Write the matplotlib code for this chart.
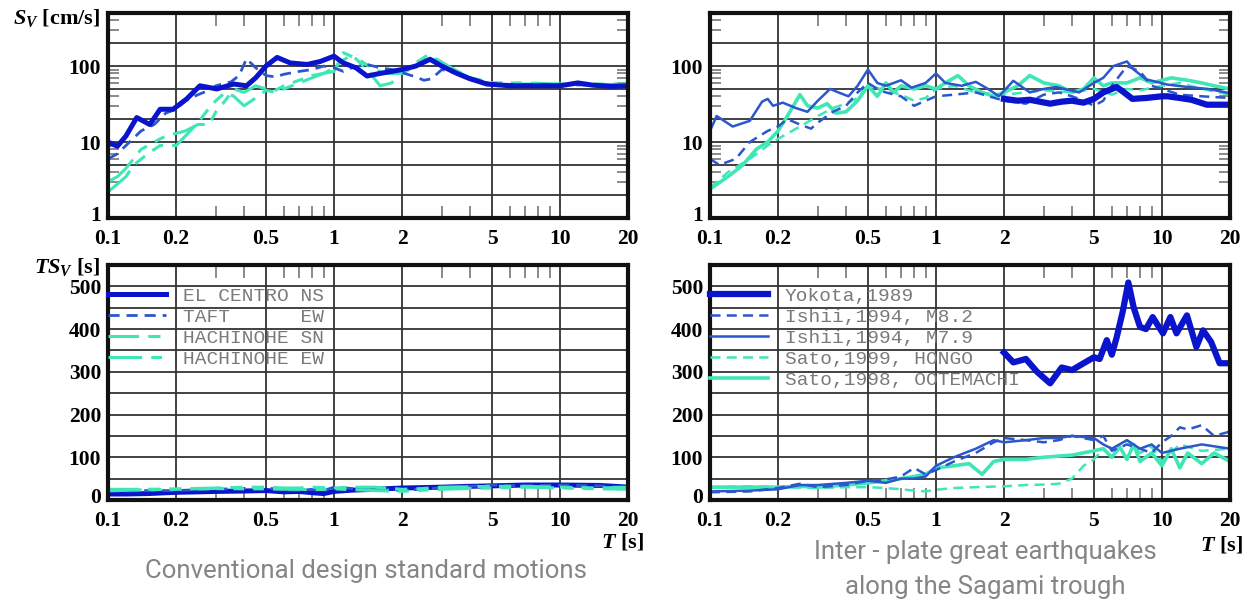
import matplotlib
matplotlib.use("Agg")
import matplotlib.pyplot as plt
import matplotlib.transforms as mtransforms
from matplotlib.ticker import FixedLocator, NullFormatter, FixedFormatter

plt.rcParams['mathtext.fontset'] = 'custom'
plt.rcParams['mathtext.it'] = 'Liberation Serif:italic:bold'
plt.rcParams['mathtext.rm'] = 'Liberation Serif:bold'
plt.rcParams['mathtext.bf'] = 'Liberation Serif:bold'

# ---------------- data: velocity response spectra Sv [cm/s] ----------------
# Conventional design standard motions
elc_T = [0.1, 0.11, 0.12, 0.134, 0.153, 0.17, 0.194, 0.223, 0.255, 0.303, 0.36, 0.41, 0.45,
         0.5, 0.56, 0.64, 0.76, 0.87, 1.0, 1.1, 1.25, 1.4, 1.6, 1.8, 2.0, 2.3, 2.66, 3.0,
         3.5, 4.0, 4.75, 6, 8, 10, 12, 14, 17, 20]
elc_sv = [10, 8.8, 12, 21, 17, 27, 27, 37, 55, 50, 58, 55, 70, 100, 130, 110, 105, 115, 135,
          110, 95, 74, 80, 85, 90, 100, 123, 100, 80, 68, 58, 55, 55, 55, 60, 56, 54, 55]

taft_T = [0.1, 0.11, 0.12, 0.14, 0.16, 0.18, 0.2, 0.22, 0.25, 0.28, 0.3, 0.35, 0.38, 0.41,
          0.45, 0.5, 0.55, 0.6, 0.7, 0.8, 0.9, 1.0, 1.1, 1.2, 1.4, 1.6, 1.8, 2.0, 2.3, 2.5,
          2.7, 3.0, 3.5, 4, 5, 7, 10, 14, 20]
taft_sv = [6, 7, 9, 14, 17, 24, 27, 35, 42, 48, 55, 62, 75, 125, 95, 75, 72, 78, 85, 90, 100,
           95, 85, 95, 105, 95, 90, 82, 72, 65, 68, 90, 80, 70, 58, 57, 57, 56, 56]

hsn_T = [0.1, 0.11, 0.12, 0.13, 0.15, 0.17, 0.2, 0.22, 0.25, 0.28, 0.3, 0.33, 0.36, 0.4,
         0.45, 0.5, 0.55, 0.6, 0.7, 0.8, 0.9, 1.0, 1.1, 1.2, 1.4, 1.6, 1.8, 2.0, 2.3, 2.6,
         2.9, 3.3, 4, 5, 7, 10, 20]
hsn_sv = [2.2, 2.8, 3.5, 5, 7, 9, 9, 12, 18, 28, 35, 45, 40, 30, 38, 48, 45, 50, 60, 70, 80,
          95, 120, 140, 90, 55, 60, 85, 110, 140, 120, 95, 70, 60, 58, 58, 57]

hew_T = [0.1, 0.11, 0.12, 0.14, 0.16, 0.18, 0.2, 0.22, 0.25, 0.28, 0.3, 0.33, 0.36, 0.4,
         0.45, 0.5, 0.55, 0.6, 0.7, 0.8, 0.9, 1.0, 1.1, 1.3, 1.5, 1.7, 2.0, 2.3, 2.6, 3.0,
         3.5, 4, 5, 7, 10, 20]
hew_sv = [3, 3.5, 4.5, 8, 10, 12, 13, 14, 17, 17, 25, 35, 50, 45, 55, 50, 48, 55, 65, 75, 80,
          85, 150, 120, 90, 80, 80, 100, 135, 110, 85, 70, 60, 60, 58, 58]

# Inter-plate great earthquakes along the Sagami trough
yok_T = [2, 2.3, 2.6, 3.2, 3.6, 4, 4.5, 5, 5.5, 6.3, 6.8, 7.4, 8.5, 10, 10.6, 12, 13.5,
         15.8, 18, 20]
yok_sv = [37, 35, 36, 32, 34, 35, 33, 37, 45, 53, 45, 37, 38, 40, 40, 38, 36, 31, 31, 31]

i82_T = [0.1, 0.11, 0.13, 0.15, 0.18, 0.2, 0.22, 0.25, 0.28, 0.3, 0.35, 0.4, 0.45, 0.5,
         0.55, 0.6, 0.7, 0.8, 0.9, 1.0, 1.2, 1.5, 2.0, 2.5, 3, 3.5, 4, 4.5, 5, 5.5, 6, 7,
         8, 9, 10, 12, 15, 20]
i82_sv = [6, 5, 6, 10, 14, 16, 20, 17, 15, 18, 25, 30, 45, 60, 50, 45, 40, 30, 35, 40, 42,
          45, 35, 32, 42, 45, 40, 35, 30, 35, 55, 100, 85, 55, 50, 42, 40, 38]

i79_T = [0.1, 0.107, 0.126, 0.15, 0.17, 0.18, 0.19, 0.21, 0.24, 0.27, 0.3, 0.34, 0.37, 0.41,
         0.45, 0.5, 0.55, 0.6, 0.7, 0.78, 0.9, 1.0, 1.1, 1.3, 1.5, 1.7, 1.9, 2.2, 2.6, 3.0,
         3.4, 4.3, 5.0, 5.5, 6.1, 7.0, 7.5, 8.5, 10.6, 13, 16, 20]
i79_sv = [14, 22, 16, 19, 34, 37, 30, 33, 28, 25, 35, 50, 45, 40, 55, 90, 60, 55, 65, 52, 60,
          80, 60, 55, 62, 50, 40, 64, 45, 50, 53, 45, 60, 70, 100, 115, 90, 67, 57, 53, 50, 44]

hon_T = [0.1, 0.12, 0.15, 0.18, 0.2, 0.25, 0.3, 0.35, 0.4, 0.45, 0.5, 0.6, 0.7, 0.8, 0.9,
         1.0, 1.2, 1.5, 2, 2.5, 3, 4, 5, 6, 7, 8, 10, 12, 15, 20]
hon_sv = [2.5, 4, 6, 9, 11, 16, 22, 28, 32, 38, 55, 48, 42, 35, 38, 50, 55, 45, 42, 45, 48,
          45, 50, 42, 50, 48, 55, 60, 50, 42]

ote_T = [0.1, 0.12, 0.14, 0.16, 0.18, 0.2, 0.22, 0.25, 0.27, 0.3, 0.33, 0.36, 0.4, 0.45,
         0.5, 0.55, 0.6, 0.65, 0.7, 0.8, 0.9, 1.0, 1.1, 1.25, 1.4, 1.6, 1.8, 2, 2.3, 2.6,
         3, 3.5, 4, 4.5, 5, 5.5, 6, 7, 8, 9, 10, 11, 13, 15, 17, 20]
ote_sv = [2.4, 3.5, 5, 8, 10, 14, 22, 42, 30, 28, 32, 24, 25, 35, 55, 40, 60, 45, 55, 50, 55,
          50, 60, 75, 55, 45, 40, 45, 55, 75, 60, 55, 45, 50, 70, 55, 60, 60, 70, 60, 65, 70,
          65, 60, 55, 50]

# ---------------- data: TSv [s] ----------------
bl_T = [0.1, 0.12, 0.15, 0.2, 0.25, 0.3, 0.4, 0.5, 0.6, 0.7, 0.8, 0.9, 1.0, 1.2, 1.5, 2,
        2.5, 3, 4, 5, 7, 10, 15, 20]
elc_ts = [14, 14, 15, 18, 19, 20, 21, 22, 19, 20, 17, 15, 20, 23, 25, 28, 29, 30, 32, 33,
          35, 35, 34, 30]
taft_ts = [20, 21, 22, 22, 24, 25, 27, 28, 24, 22, 25, 22, 30, 27, 28, 22, 26, 28, 32, 35,
           33, 35, 33, 30]
hsn_ts = [25, 25, 25, 26, 27, 28, 30, 30, 28, 28, 30, 29, 28, 30, 30, 25, 27, 30, 31, 32,
          32, 30, 28, 30]
hew_ts = [22, 23, 24, 25, 26, 27, 26, 26, 25, 25, 24, 25, 26, 24, 22, 20, 23, 25, 27, 28,
          30, 28, 26, 25]

yok_ts_T = [2, 2.2, 2.5, 2.8, 3.2, 3.6, 4, 4.5, 5, 5.3, 5.7, 6, 6.3, 6.7, 7.1, 7.5, 8, 8.5,
            9.1, 10.1, 10.9, 11.6, 12.9, 14.2, 15.2, 16.5, 18, 20]
yok_ts = [345, 322, 330, 300, 273, 310, 304, 320, 334, 330, 374, 340, 380, 440, 509, 450,
          405, 400, 428, 390, 428, 390, 432, 358, 397, 370, 320, 320]

i79_ts_T = [0.1, 0.15, 0.2, 0.25, 0.3, 0.4, 0.5, 0.6, 0.7, 0.8, 0.9, 1.0, 1.2, 1.5, 1.8,
            2, 2.5, 3, 3.5, 4, 5, 5.5, 6, 7, 8, 9, 10, 12, 15, 20]
i79_ts = [20, 22, 25, 35, 35, 40, 45, 40, 50, 50, 55, 80, 100, 120, 140, 135, 140, 145, 145,
          150, 145, 130, 120, 140, 120, 130, 110, 120, 130, 120]

i82_ts_T = [0.1, 0.15, 0.2, 0.25, 0.3, 0.4, 0.5, 0.6, 0.7, 0.8, 0.9, 1.0, 1.2, 1.5, 1.8, 2,
            2.5, 3, 3.5, 4, 5, 5.5, 6, 7, 8, 9, 10, 11, 12, 13, 15, 17, 20]
i82_ts = [18, 20, 28, 38, 30, 35, 45, 48, 55, 75, 60, 70, 90, 110, 135, 145, 140, 135, 140,
          150, 140, 150, 115, 130, 120, 110, 135, 150, 170, 165, 175, 150, 160]

hon_ts_T = [0.1, 0.15, 0.2, 0.3, 0.4, 0.5, 0.6, 0.7, 0.8, 0.9, 1.0, 1.2, 1.5, 2, 2.5, 3,
            3.5, 4, 4.5, 5, 5.5, 6, 7, 8, 9, 10, 12, 15, 20]
hon_ts = [30, 32, 30, 28, 30, 30, 28, 25, 22, 20, 24, 28, 30, 32, 35, 36, 38, 50, 80, 95,
          120, 100, 140, 110, 125, 90, 130, 115, 120]

ote_ts_T = [0.1, 0.15, 0.2, 0.25, 0.3, 0.4, 0.5, 0.6, 0.7, 0.8, 0.9, 1.0, 1.2, 1.4, 1.6,
            1.8, 2, 2.5, 3, 4, 5, 5.5, 6, 6.5, 7, 7.5, 8, 9, 10, 11, 12, 13, 15, 17, 20]
ote_ts = [30, 30, 30, 32, 30, 35, 40, 45, 50, 55, 60, 75, 80, 85, 60, 90, 95, 95, 100, 105,
          115, 120, 100, 125, 95, 130, 90, 110, 80, 120, 75, 110, 85, 110, 90]

x_ticks = [0.1, 0.2, 0.5, 1, 2, 5, 10, 20]
x_ticklabels = ['0.1', '0.2', '0.5', '1', '2', '5', '10', '20']
x_minor = [0.3, 0.4, 0.6, 0.7, 0.8, 0.9, 3, 4, 6, 7, 8, 9]
sv_grid = [1, 2, 5, 10, 20, 50, 100, 200]
sv_labels = ['1', '', '', '10', '', '', '100', '']
sv_minor = [3, 4, 6, 7, 8, 9, 30, 40, 60, 70, 80, 90, 300, 400]
ts_grid = list(range(0, 551, 50))
ts_labels = [str(v) if v % 100 == 0 and v <= 500 else '' for v in ts_grid]

legend_left = ['EL CENTRO NS', 'TAFT      EW', 'HACHINOHE SN', 'HACHINOHE EW']
legend_right = ['Yokota,1989', 'Ishii,1994, M8.2', 'Ishii,1994, M7.9',
                'Sato,1999, HONGO', 'Sato,1998, OOTEMACHI']

# ---------------- styles ----------------
C_DARK = '#0a14cc'
C_MID = '#2c56cc'
C_AQUA = '#3fe6b6'
TICK_FP = matplotlib.font_manager.FontProperties(family='Liberation Serif', weight='bold',
                                                  size=15.5)

fig = plt.figure(figsize=(12.52, 6.01), dpi=100)
fig.patch.set_facecolor('white')

ax_tl = fig.add_axes([0.0863, 0.6373, 0.4153, 0.3411])
ax_tr = fig.add_axes([0.5671, 0.6373, 0.4153, 0.3411])
ax_bl = fig.add_axes([0.0863, 0.1681, 0.4153, 0.3910])
ax_br = fig.add_axes([0.5671, 0.1681, 0.4153, 0.3910])


def style_axes(ax, log_y):
    ax.set_xscale('log')
    ax.set_xlim(0.1, 20)
    ax.xaxis.set_major_locator(FixedLocator(x_ticks))
    ax.xaxis.set_major_formatter(FixedFormatter(x_ticklabels))
    ax.xaxis.set_minor_locator(FixedLocator(x_minor))
    ax.xaxis.set_minor_formatter(NullFormatter())
    if log_y:
        ax.set_yscale('log')
        ax.set_ylim(1, 500)
        ax.yaxis.set_major_locator(FixedLocator(sv_grid))
        ax.yaxis.set_major_formatter(FixedFormatter(sv_labels))
        ax.yaxis.set_minor_locator(FixedLocator(sv_minor))
        ax.yaxis.set_minor_formatter(NullFormatter())
        ax.tick_params(axis='y', which='minor', direction='in', length=8, width=1.4,
                       color='#8a8a8a', left=True, right=True)
    else:
        ax.set_ylim(0, 550)
        ax.yaxis.set_major_locator(FixedLocator(ts_grid))
        ax.yaxis.set_major_formatter(FixedFormatter(ts_labels))
        ax.tick_params(axis='y', which='minor', length=0)
    ax.tick_params(axis='x', which='minor', direction='in', length=9, width=1.4,
                   color='#8a8a8a', top=True, bottom=True)
    ax.tick_params(axis='x', which='major', length=0, pad=8)
    ax.tick_params(axis='y', which='major', length=0, pad=5)
    for lab in ax.get_xticklabels() + ax.get_yticklabels():
        lab.set_fontproperties(TICK_FP)
    # lift the lowest y label a little so it clears the first x label
    ylabs = ax.get_yticklabels()
    ylabs[0].set_transform(ylabs[0].get_transform() +
                           mtransforms.ScaledTranslation(0, 3 / 72, fig.dpi_scale_trans))
    ax.grid(True, which='major', color='#333333', linewidth=1.3)
    ax.set_axisbelow(True)
    for sp in ax.spines.values():
        sp.set_linewidth(3)
        sp.set_color('#111111')
        sp.set_zorder(5)


for ax, lg in [(ax_tl, True), (ax_tr, True), (ax_bl, False), (ax_br, False)]:
    style_axes(ax, lg)

DASH_T = (0, (4, 2.5))
DASH_H1 = (0, (10, 3, 4, 3, 4, 3))
DASH_H2 = (0, (11, 3, 3.5, 3, 3.5, 3))

# --- top-left: Sv of design standard motions
ax_tl.plot(hew_T, hew_sv, color=C_AQUA, lw=2.2, ls=DASH_H2)
ax_tl.plot(hsn_T, hsn_sv, color=C_AQUA, lw=2.2, ls=DASH_H1)
ax_tl.plot(taft_T, taft_sv, color=C_MID, lw=2.0, ls=DASH_T)
ax_tl.plot(elc_T, elc_sv, color=C_DARK, lw=3.6)

# --- top-right: Sv of Sagami trough events
ax_tr.plot(hon_T, hon_sv, color=C_AQUA, lw=1.8, ls=DASH_T)
ax_tr.plot(ote_T, ote_sv, color=C_AQUA, lw=2.6)
ax_tr.plot(i82_T, i82_sv, color=C_MID, lw=1.8, ls=DASH_T)
ax_tr.plot(i79_T, i79_sv, color=C_MID, lw=1.8)
ax_tr.plot(yok_T, yok_sv, color=C_DARK, lw=4.5)

# --- bottom-left: TSv of design standard motions
h_elc, = ax_bl.plot(bl_T, elc_ts, color=C_DARK, lw=3.6, label=legend_left[0])
h_taft, = ax_bl.plot(bl_T, taft_ts, color=C_MID, lw=2.0, ls=DASH_T, label=legend_left[1])
h_hsn, = ax_bl.plot(bl_T, hsn_ts, color=C_AQUA, lw=2.2, ls=DASH_H1, label=legend_left[2])
h_hew, = ax_bl.plot(bl_T, hew_ts, color=C_AQUA, lw=2.2, ls=DASH_H2, label=legend_left[3])

# --- bottom-right: TSv of Sagami trough events
h_hon, = ax_br.plot(hon_ts_T, hon_ts, color=C_AQUA, lw=1.8, ls=DASH_T, label=legend_right[3])
h_ote, = ax_br.plot(ote_ts_T, ote_ts, color=C_AQUA, lw=2.6, label=legend_right[4])
h_i82, = ax_br.plot(i82_ts_T, i82_ts, color=C_MID, lw=1.8, ls=DASH_T, label=legend_right[1])
h_i79, = ax_br.plot(i79_ts_T, i79_ts, color=C_MID, lw=1.8, label=legend_right[2])
h_yok, = ax_br.plot(yok_ts_T, yok_ts, color=C_DARK, lw=4.5, label=legend_right[0])

LEG_FONT = dict(family='Liberation Mono', size=14)
for ax, handles in [(ax_bl, [h_elc, h_taft, h_hsn, h_hew]),
                    (ax_br, [h_yok, h_i82, h_i79, h_hon, h_ote])]:
    leg = ax.legend(handles=handles, loc='upper left', bbox_to_anchor=(0.0, 0.905),
                    frameon=False, prop=LEG_FONT, labelcolor='#7a7a7a',
                    handlelength=3.0, handletextpad=0.85, labelspacing=0.17,
                    borderaxespad=0.0, borderpad=0.0)
    leg.set_zorder(6)

# --- axis titles
fig.text(0.080, 0.970, r'$S_V$ [cm/s]', ha='right', va='center',
         fontfamily='Liberation Serif', fontweight='bold', fontsize=16)
fig.text(0.080, 0.556, r'$TS_V$ [s]', ha='right', va='center',
         fontfamily='Liberation Serif', fontweight='bold', fontsize=16)
fig.text(0.497, 0.098, r'$T$ [s]', ha='center', va='center',
         fontfamily='Liberation Serif', fontweight='bold', fontsize=16)
fig.text(0.976, 0.093, r'$T$ [s]', ha='center', va='center',
         fontfamily='Liberation Serif', fontweight='bold', fontsize=16)

# --- panel captions
CAP = dict(family=['Roboto'], size=18.5, color='#858585')
fig.text(0.292, 0.050, 'Conventional design standard motions', ha='center', va='center', **CAP)
fig.text(0.787, 0.081, 'Inter - plate great earthquakes', ha='center', va='center', **CAP)
fig.text(0.787, 0.024, 'along the Sagami trough', ha='center', va='center', **CAP)

fig.savefig('out.png', dpi=100, facecolor='white')
